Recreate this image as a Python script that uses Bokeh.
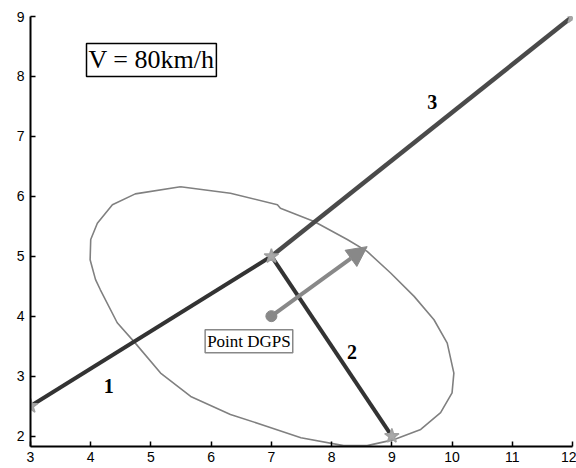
from bokeh.plotting import figure
from bokeh.models import Range1d, Label, Arrow, NormalHead, FixedTicker
from bokeh.embed import file_html
from bokeh.resources import INLINE

# ---- data ----
x_ticks = [3, 4, 5, 6, 7, 8, 9, 10, 11, 12]
y_ticks = [2, 3, 4, 5, 6, 7, 8, 9]

seg1_x = [3, 7]
seg1_y = [2.5, 5]
seg2_x = [7, 9]
seg2_y = [5, 2]
seg3_x = [7, 12]
seg3_y = [5, 9]

waypoint_x = [3, 7, 9, 12]
waypoint_y = [2.5, 5, 2, 9]

dgps_x = [7.0]
dgps_y = [4.0]
heading_end_x = 8.59
heading_end_y = 5.16

ellipse_x = [5.49, 6.32, 7.10, 7.15, 7.71, 8.26, 8.59, 8.98, 9.37, 9.70, 9.92, 10.03,
             10.00, 9.81, 9.48, 9.04, 8.59, 8.20, 7.49, 6.93, 6.32, 5.66, 5.16, 4.74,
             4.44, 4.16, 4.08, 3.99, 4.00, 4.11, 4.36, 4.74, 5.49]
ellipse_y = [6.16, 6.05, 5.86, 5.80, 5.58, 5.28, 5.08, 4.72, 4.33, 3.94, 3.55, 3.05,
             2.72, 2.39, 2.11, 1.94, 1.84, 1.84, 1.97, 2.16, 2.36, 2.66, 3.05, 3.55,
             3.89, 4.44, 4.61, 4.94, 5.28, 5.55, 5.86, 6.04, 6.16]

seg_labels = ["1", "2", "3"]
seg_label_x = [4.30, 8.34, 9.67]
seg_label_y = [2.83, 3.41, 7.58]

speed_text = "V = 80km/h"
dgps_text = "Point DGPS"

# ---- figure ----
p = figure(width=576, height=468, output_backend="svg", toolbar_location=None,
           x_range=Range1d(3, 12), y_range=Range1d(1.825, 9),
           min_border_left=30, min_border_right=4, min_border_top=16, min_border_bottom=22)
p.outline_line_color = None
p.xgrid.visible = False
p.ygrid.visible = False
p.background_fill_color = "white"
p.border_fill_color = "white"

for ax in (p.xaxis[0], p.yaxis[0]):
    ax.major_tick_in = 5
    ax.major_tick_out = 0
    ax.minor_tick_in = 0
    ax.minor_tick_out = 0
    ax.axis_line_color = "black"
    ax.axis_line_width = 2
    ax.major_tick_line_color = "black"
    ax.major_tick_line_width = 1.5
    ax.major_label_text_font = "Liberation Sans"
    ax.major_label_text_font_size = "14px"
    ax.major_label_text_color = "black"
p.xaxis[0].ticker = FixedTicker(ticks=x_ticks)
p.yaxis[0].ticker = FixedTicker(ticks=y_ticks)
p.xaxis[0].major_label_standoff = 5
p.yaxis[0].major_label_standoff = 6

# ellipse (uncertainty region)
p.line(ellipse_x, ellipse_y, line_color="#808080", line_width=1.6)

# route segments
p.line(seg1_x, seg1_y, line_color="#333333", line_width=4)
p.line(seg2_x, seg2_y, line_color="#333333", line_width=4)
p.line(seg3_x, seg3_y, line_color="#4a4a4a", line_width=4.5)

# waypoints
p.scatter(waypoint_x, waypoint_y, marker="star", size=15,
          fill_color="#a8a8a8", line_color="#a0a0a0", line_width=1.5)

# heading arrow
p.add_layout(Arrow(x_start=dgps_x[0], y_start=dgps_y[0], x_end=heading_end_x, y_end=heading_end_y,
                   line_color="#888888", line_width=4,
                   end=NormalHead(size=20, fill_color="#888888", line_color="#888888")))
p.scatter(dgps_x, dgps_y, marker="circle", size=11, fill_color="#888888", line_color="#888888")

# segment labels
p.text(seg_label_x, seg_label_y, text=seg_labels, text_font="Liberation Serif",
       text_font_size="20px", text_font_style="bold", text_color="black",
       text_align="center", text_baseline="middle")

p.add_layout(Label(x=3.93, y=8.275, text=speed_text, text_font="Liberation Serif",
                   text_font_size="26px", text_color="black", text_baseline="middle",
                   text_align="left", border_line_color="black", border_line_width=1.5,
                   background_fill_color="white", padding=2))

p.add_layout(Label(x=5.90, y=3.58, text=dgps_text, text_font="Liberation Serif",
                   text_font_size="17px", text_color="black", text_baseline="middle",
                   text_align="left", border_line_color="#888888", border_line_width=1.5,
                   background_fill_color="white", padding=2))

open("out.html", "w").write(file_html(p, INLINE))
